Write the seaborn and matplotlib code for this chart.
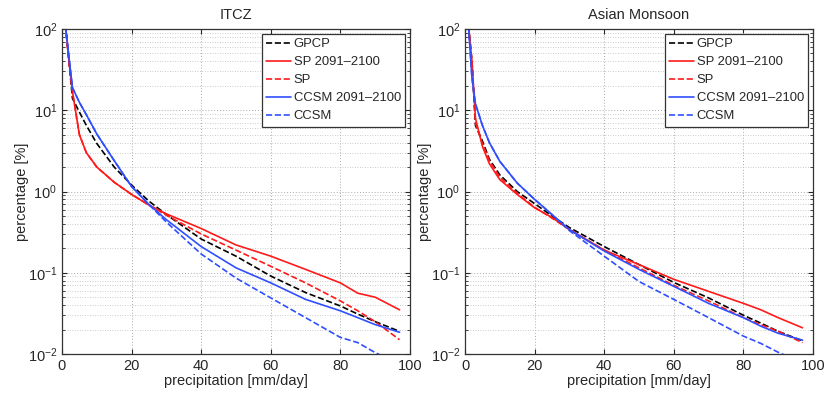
import numpy as np, pandas as pd
import matplotlib
matplotlib.use("Agg")
import matplotlib.pyplot as plt
import seaborn as sns

#%%
# precipitation bins [mm/day]
precip = [1, 2, 3, 5, 7, 10, 15, 20, 25, 30, 40, 50, 60, 70, 80, 85, 90, 97]

# ITCZ
itcz_gpcp = [110, 40, 14, 9.5, 6.5, 3.9, 2.0, 1.2, 0.76, 0.52, 0.26, 0.16, 0.091, 0.057, 0.039, 0.031, 0.025, 0.019]
itcz_sp_fut = [110, 40, 17, 5.0, 3.0, 2.0, 1.3, 0.92, 0.68, 0.53, 0.35, 0.22, 0.16, 0.11, 0.075, 0.056, 0.050, 0.035]
itcz_sp = [110, 40, 17, 5.0, 3.0, 2.0, 1.3, 0.92, 0.68, 0.51, 0.30, 0.19, 0.12, 0.075, 0.045, 0.034, 0.025, 0.015]
itcz_ccsm_fut = [110, 45, 19, 12.5, 8.8, 5.1, 2.4, 1.15, 0.69, 0.45, 0.21, 0.115, 0.075, 0.047, 0.034, 0.028, 0.023, 0.0185]
itcz_ccsm = [110, 45, 19, 12.5, 8.8, 5.1, 2.4, 1.15, 0.69, 0.42, 0.17, 0.086, 0.049, 0.028, 0.016, 0.0138, 0.0104, 0.0075]

# Asian Monsoon
mon_gpcp = [110, 40, 6.5, 4.2, 2.5, 1.6, 1.0, 0.71, 0.50, 0.36, 0.21, 0.126, 0.076, 0.049, 0.030, 0.024, 0.019, 0.0145]
mon_sp_fut = [110, 40, 8.0, 3.6, 2.2, 1.4, 0.92, 0.63, 0.48, 0.34, 0.19, 0.126, 0.083, 0.059, 0.042, 0.035, 0.028, 0.021]
mon_sp = [110, 40, 7.0, 3.9, 2.4, 1.5, 0.95, 0.64, 0.47, 0.34, 0.19, 0.115, 0.070, 0.045, 0.028, 0.023, 0.019, 0.0138]
mon_ccsm_fut = [110, 25, 12, 6.5, 4.0, 2.35, 1.27, 0.80, 0.52, 0.34, 0.185, 0.11, 0.068, 0.042, 0.028, 0.022, 0.018, 0.0148]
mon_ccsm = [110, 25, 12, 6.5, 4.0, 2.35, 1.27, 0.80, 0.52, 0.33, 0.16, 0.078, 0.047, 0.028, 0.0166, 0.0135, 0.0105, 0.0078]

labels = ['GPCP', 'SP 2091\u20132100', 'SP', 'CCSM 2091\u20132100', 'CCSM']
colors = ['black', '#ff1a1a', '#ff1a1a', '#2f4fff', '#2f4fff']
styles = ['--', '-', '--', '-', '--']

panels = [('ITCZ', [itcz_gpcp, itcz_sp_fut, itcz_sp, itcz_ccsm_fut, itcz_ccsm]),
          ('Asian Monsoon', [mon_gpcp, mon_sp_fut, mon_sp, mon_ccsm_fut, mon_ccsm])]

#%%
sns.set_style("ticks")
plt.rcParams['font.family'] = ['Liberation Sans', 'DejaVu Sans']
plt.rcParams['mathtext.default'] = 'regular'
plt.rcParams['font.size'] = 9.5

fig = plt.figure(figsize=(8.34, 3.94), dpi=100)
positions = [[62/834, 40/394, 348/834, 325/394], [465/834, 40/394, 348/834, 325/394]]

for pos, (title, series) in zip(positions, panels):
    ax = fig.add_axes(pos)
    for vals, lab, c, ls in zip(series, labels, colors, styles):
        sns.lineplot(x=precip, y=vals, ax=ax, color=c, linestyle=ls, linewidth=1.2, label=lab)
    ax.set_yscale('log')
    ax.set_xlim(0, 100)
    ax.set_ylim(1e-2, 1e2)
    ax.set_xticks([0, 20, 40, 60, 80, 100])
    ax.grid(True, which='major', axis='both', linestyle=(0, (1, 2)), color='#aaaaaa', linewidth=0.7)
    ax.grid(True, which='minor', axis='y', linestyle=(0, (1, 2)), color='#bbbbbb', linewidth=0.6)
    ax.tick_params(which='both', direction='in', top=True, right=True, labelsize=10.5)
    for s in ax.spines.values():
        s.set_color('#333333')
        s.set_linewidth(0.9)
    ax.set_title(title, fontsize=10.5, pad=7)
    ax.set_xlabel('precipitation [mm/day]', fontsize=10.5, labelpad=1)
    ax.set_ylabel('percentage [%]', fontsize=10.5, labelpad=-1)
    leg = ax.legend(loc='upper right', fancybox=False, edgecolor='#333333', framealpha=1,
                    handlelength=1.9, handletextpad=0.2, labelspacing=0.45, fontsize=9.4,
                    borderaxespad=0.35, borderpad=0.35)
    leg.get_frame().set_linewidth(0.9)

plt.savefig('out.png', dpi=100)
